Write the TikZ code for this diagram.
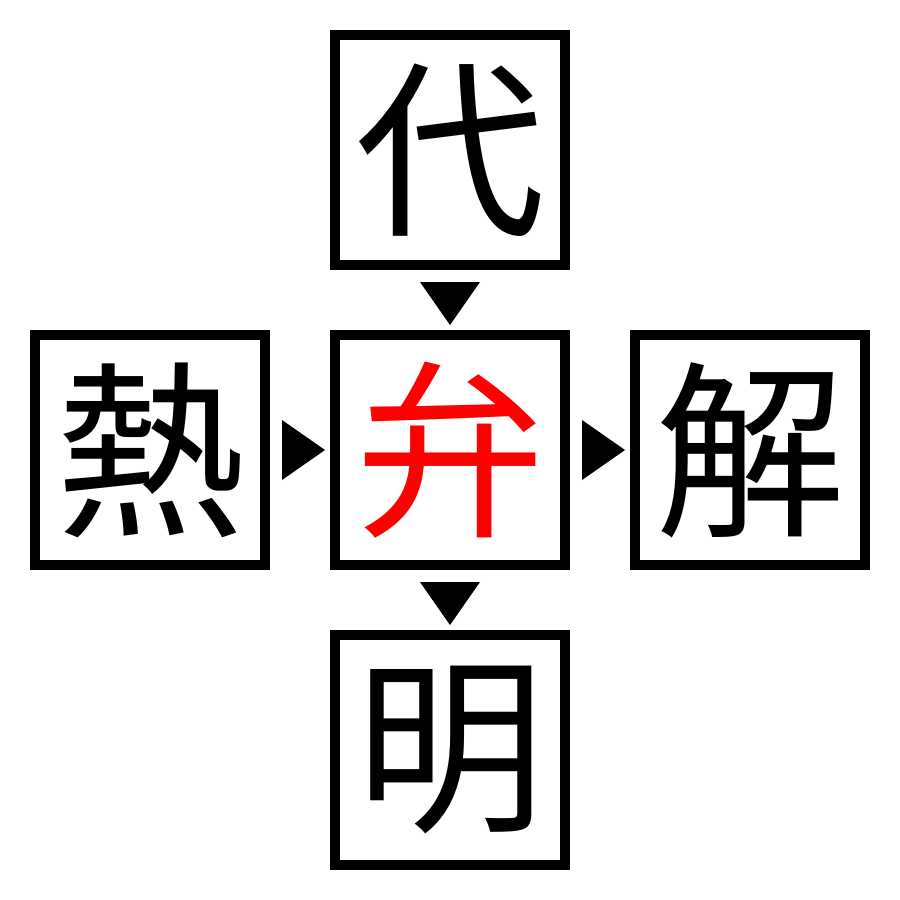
\documentclass[tikz,border=0pt]{standalone}
\usepackage{fontspec}
\newfontfamily\cjk{Noto Sans CJK JP}
\begin{document}
\begin{tikzpicture}[x=1pt,y=-1pt,
  kbox/.style={draw=black,line width=10pt,minimum size=230pt,inner sep=0pt,font=\cjk\fontsize{190}{190}\selectfont},
  tri/.style={fill=black,draw=none}]
\useasboundingbox (0,0) rectangle (900,900);
\node[kbox] (top) at (450,150) {代};
\node[kbox] (left) at (150,450) {熱};
\node[kbox,text=red] (mid) at (450,450) {弁};
\node[kbox] (right) at (750,450) {解};
\node[kbox] (bot) at (450,750) {明};
\fill[tri] (420,282) -- (480,282) -- (450,325) -- cycle;
\fill[tri] (282,420) -- (282,480) -- (325,450) -- cycle;
\fill[tri] (582,420) -- (582,480) -- (625,450) -- cycle;
\fill[tri] (420,582) -- (480,582) -- (450,625) -- cycle;
\end{tikzpicture}
\end{document}
